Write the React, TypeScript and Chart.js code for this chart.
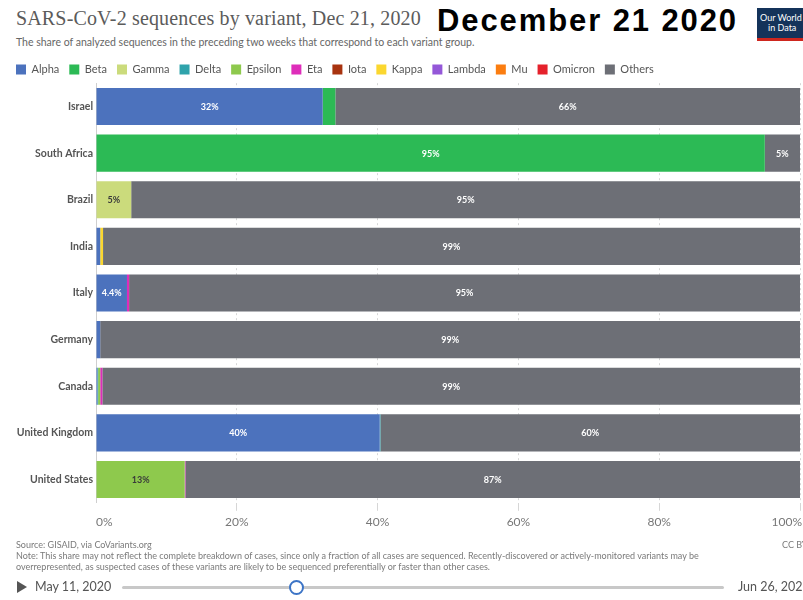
import React, { useEffect, useRef } from "react";
import { Chart, registerables } from "chart.js";

Chart.register(...registerables);

const countries = ["Israel", "South Africa", "Brazil", "India", "Italy", "Germany", "Canada", "United Kingdom", "United States"];

const variantNames = ["Alpha", "Beta", "Gamma", "Delta", "Epsilon", "Eta", "Iota", "Kappa", "Lambda", "Mu", "Omicron", "Others"];
const variantColors = ["#4c72bd", "#2cba55", "#cbdb7c", "#2fa3ab", "#8ec94d", "#de2dba", "#a8330f", "#fbd72f", "#9457d8", "#fb7d10", "#e5212b", "#6d6f76"];
const darkLabelVariants = ["Gamma", "Epsilon", "Kappa"];

const alpha = [32.2, 0, 0, 0.6, 4.4, 0.6, 0.2, 40.3, 0];
const beta = [1.8, 95, 0, 0, 0, 0, 0, 0, 0];
const gamma = [0, 0, 5, 0, 0, 0, 0, 0, 0];
const delta = [0, 0, 0, 0, 0, 0, 0.1, 0.1, 0];
const epsilon = [0, 0, 0, 0, 0, 0, 0.3, 0, 12.6];
const eta = [0, 0, 0, 0, 0.3, 0, 0.3, 0, 0.1];
const iota = [0, 0, 0, 0, 0, 0, 0, 0, 0];
const kappa = [0, 0, 0, 0.4, 0, 0, 0, 0, 0];
const lambda = [0, 0, 0, 0, 0, 0, 0, 0, 0];
const mu = [0, 0, 0, 0, 0, 0, 0, 0, 0];
const omicron = [0, 0, 0, 0, 0, 0, 0, 0, 0];
const others = [66, 5, 95, 99, 95.3, 99.4, 99.1, 59.6, 87.3];

const seriesValues = [alpha, beta, gamma, delta, epsilon, eta, iota, kappa, lambda, mu, omicron, others];

const xTicks = [0, 20, 40, 60, 80, 100];
const X_MIN = 0;
const X_MAX = 100;

const fmt = (v: number) => (v < 10 ? String(Math.round(v * 10) / 10) : String(Math.round(v))) + "%";

const CANVAS_W = 803;
const CANVAS_H = 490;
const CANVAS_TOP = 54;
const LEGEND_H = 29.2;
const PLOT_BOTTOM = 448.8;

const barLabels = {
  id: "barLabels",
  afterDatasetsDraw(chart: any) {
    const ctx = chart.ctx;
    ctx.save();
    ctx.font = "bold 9px Lato";
    ctx.textAlign = "center";
    ctx.textBaseline = "middle";
    chart.data.datasets.forEach((ds: any, di: number) => {
      const meta = chart.getDatasetMeta(di);
      meta.data.forEach((el: any, i: number) => {
        const v = ds.data[i];
        const w = Math.abs(el.x - el.base);
        if (!v || w < 24) return;
        ctx.fillStyle = darkLabelVariants.includes(ds.label) ? "#3a3a3a" : "#ffffff";
        ctx.fillText(fmt(v), (el.x + el.base) / 2, el.y + 0.5);
      });
    });
    ctx.restore();
  },
};

// first and last x tick labels are aligned to the plot edges (as in the original)
const edgeTicks = {
  id: "edgeTicks",
  afterDraw(chart: any) {
    const sx = chart.scales.x;
    const ctx = chart.ctx;
    ctx.save();
    ctx.font = "12px Lato";
    ctx.fillStyle = "#777";
    ctx.textBaseline = "middle";
    const y = sx.top + 8 + 4 + 7;
    ctx.textAlign = "left";
    ctx.fillText(X_MIN + "%", sx.getPixelForValue(X_MIN), y);
    ctx.textAlign = "right";
    ctx.fillText(X_MAX + "%", sx.getPixelForValue(X_MAX) + 2, y);
    ctx.restore();
  },
};

const legendSize = {
  id: "legendSize",
  beforeInit(chart: any) {
    const lg = chart.legend;
    if (lg) {
      const orig = lg.fit;
      lg.fit = function () {
        orig.call(this);
        this.height = LEGEND_H;
      };
    }
  },
};

function SeqChart() {
  const ref = useRef<HTMLCanvasElement | null>(null);
  useEffect(() => {
    if (!ref.current) return;
    const chart = new Chart(ref.current, {
      type: "bar",
      data: {
        labels: countries,
        datasets: variantNames.map((name, i) => ({
          label: name,
          data: seriesValues[i],
          backgroundColor: variantColors[i],
          borderWidth: 0,
          barPercentage: 0.795,
          categoryPercentage: 1,
        })),
      },
      options: {
        indexAxis: "y",
        animation: false,
        responsive: false,
        devicePixelRatio: 1,
        layout: { padding: { left: 6, right: 3, top: 0, bottom: 0 } },
        plugins: {
          legend: {
            position: "top",
            align: "start",
            labels: {
              boxWidth: 10,
              boxHeight: 10,
              padding: 10,
              color: "#555",
              font: { family: "Lato", size: 11 },
            },
          },
          tooltip: { enabled: false },
          title: { display: false },
        },
        scales: {
          x: {
            stacked: true,
            min: X_MIN,
            max: X_MAX,
            afterBuildTicks: (scale: any) => {
              scale.ticks = xTicks.map((v) => ({ value: v }));
            },
            afterFit: (scale: any) => {
              scale.height = CANVAS_H - PLOT_BOTTOM;
              scale.paddingRight = 0;
              scale.paddingLeft = 0;
            },
            ticks: {
              color: "#777",
              font: { family: "Lato", size: 12 },
              padding: 4,
              callback: (v: any) => (v === X_MIN || v === X_MAX ? "" : v + "%"),
            },
            grid: {
              color: (c: any) => (c.tick && c.tick.value === 0 ? "rgba(0,0,0,0)" : "#d6d6d6"),
              tickLength: 8,
              lineWidth: 1,
            },
            border: { display: false, dash: [2, 3] },
          },
          y: {
            stacked: true,
            afterFit: (scale: any) => {
              scale.width = 90;
            },
            ticks: {
              color: "#555",
              font: { family: "Lato", size: 10.5, weight: "bold" },
              padding: 3,
            },
            grid: { display: false, drawTicks: false },
            border: { display: true, color: "#cfcfcf", width: 1 },
          },
        },
      },
      plugins: [barLabels, edgeTicks, legendSize],
    });
    return () => chart.destroy();
  }, []);
  return (
    <canvas
      ref={ref}
      width={CANVAS_W}
      height={CANVAS_H}
      style={{ position: "absolute", left: 0, top: CANVAS_TOP, width: CANVAS_W, height: CANVAS_H }}
    />
  );
}

export default function App() {
  return (
    <div
      style={{
        position: "absolute",
        left: 0,
        top: 0,
        width: 803,
        height: 600,
        overflow: "hidden",
        background: "#fff",
        fontFamily: "Lato, sans-serif",
      }}
    >
      <div
        style={{
          position: "absolute",
          left: 16,
          top: 7,
          fontFamily: "'Liberation Serif', serif",
          fontSize: 20,
          color: "#5b5b5b",
          whiteSpace: "nowrap",
          letterSpacing: 0.15,
        }}
      >
        SARS-CoV-2 sequences by variant, Dec 21, 2020
      </div>
      <div
        style={{
          position: "absolute",
          left: 437,
          top: 3,
          fontFamily: "'Liberation Sans', Arial, sans-serif",
          fontWeight: "bold",
          fontSize: 31,
          color: "#000",
          whiteSpace: "nowrap",
          letterSpacing: 1.9,
        }}
      >
        December 21 2020
      </div>
      <div
        style={{
          position: "absolute",
          left: 16,
          top: 36,
          fontSize: 10.5,
          color: "#666",
          whiteSpace: "nowrap",
        }}
      >
        The share of analyzed sequences in the preceding two weeks that correspond to each variant group.
      </div>
      <div
        style={{
          position: "absolute",
          left: 757,
          top: 8,
          width: 60,
          height: 33,
          background: "#14335a",
          borderBottom: "3px solid #ce261e",
          boxSizing: "border-box",
          color: "#fff",
          fontSize: 9,
          lineHeight: "10px",
          paddingTop: 5,
          paddingLeft: 3,
          whiteSpace: "nowrap",
        }}
      >
        <div>Our World</div>
        <div style={{ paddingLeft: 8 }}>in Data</div>
      </div>
      <SeqChart />
      <div style={{ position: "absolute", left: 16, top: 539, fontSize: 9, color: "#7a7a7a", whiteSpace: "nowrap", lineHeight: "11px" }}>
        <div>Source: GISAID, via CoVariants.org</div>
        <div>
          Note: This share may not reflect the complete breakdown of cases, since only a fraction of all cases are sequenced. Recently-discovered or actively-monitored variants may be
        </div>
        <div>overrepresented, as suspected cases of these variants are likely to be sequenced preferentially or faster than other cases.</div>
      </div>
      <div style={{ position: "absolute", left: 782, top: 539, fontSize: 9, color: "#7a7a7a", whiteSpace: "nowrap", lineHeight: "11px" }}>
        CC BY
      </div>
      <div
        style={{
          position: "absolute",
          left: 17,
          top: 581,
          width: 0,
          height: 0,
          borderTop: "6px solid transparent",
          borderBottom: "6px solid transparent",
          borderLeft: "10px solid #555",
        }}
      />
      <div style={{ position: "absolute", left: 35, top: 579, fontSize: 12.5, color: "#555", whiteSpace: "nowrap" }}>May 11, 2020</div>
      <div style={{ position: "absolute", left: 122, top: 586, width: 602, height: 3, background: "#c8c8c8", borderRadius: 2 }} />
      <div
        style={{
          position: "absolute",
          left: 289,
          top: 580,
          width: 11,
          height: 11,
          borderRadius: "50%",
          border: "2px solid #3c74c6",
          background: "#fff",
        }}
      />
      <div style={{ position: "absolute", left: 738, top: 579, fontSize: 12.5, color: "#555", whiteSpace: "nowrap" }}>Jun 26, 2022</div>
    </div>
  );
}
